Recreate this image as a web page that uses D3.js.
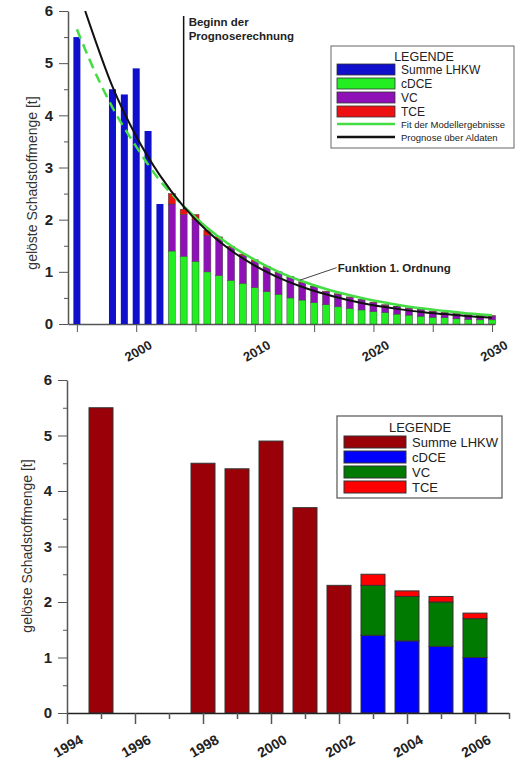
<!DOCTYPE html>
<html>
<head>
<meta charset="utf-8">
<script src="https://cdn.jsdelivr.net/npm/d3@7"></script>
<style>
  body { margin: 0; background: #fff; }
  svg { display: block; font-family: 'Liberation Sans', Arial, sans-serif; }
</style>
</head>
<body>
<div id="chart"></div>
<script>
// Data
const measYears = [1995, 1998, 1999, 2000, 2001, 2002]
const lhkw = [5.5, 4.5, 4.4, 4.9, 3.7, 2.3]

const stackYears = [2003, 2004, 2005, 2006]
const cdce = [1.4, 1.3, 1.2, 1.0]
const vc = [0.9, 0.8, 0.8, 0.7]
const tce = [0.2, 0.1, 0.1, 0.1]

// forecast bars of the upper chart (2003 - 2030)
const progYears = d3.range(2003, 2031)
const progCdce = [1.4, 1.3, 1.2, 1.0, 0.93, 0.84, 0.78, 0.70, 0.62, 0.57, 0.50, 0.46, 0.41, 0.37,
  0.33, 0.30, 0.27, 0.24, 0.22, 0.19, 0.17, 0.15, 0.13, 0.12, 0.10, 0.09, 0.08, 0.08]
const progVc = [0.9, 0.8, 0.8, 0.7, 0.70, 0.62, 0.53, 0.50, 0.46, 0.41, 0.39, 0.33, 0.30, 0.25,
  0.24, 0.21, 0.19, 0.17, 0.14, 0.14, 0.13, 0.12, 0.11, 0.09, 0.09, 0.08, 0.08, 0.07]
const progTce = [0.2, 0.1, 0.1, 0.1, 0.04, 0.03, 0.03, 0.03, 0.02, 0.02, 0.02, 0.02, 0.01, 0.01,
  0.01, 0.01, 0.01, 0.01, 0.01, 0.01, 0.01, 0.01, 0.01, 0.01, 0.01, 0.01, 0.01, 0.01]

// curves
const fitYears = [1995, 1996, 1998, 2000, 2002, 2004, 2006, 2008, 2010, 2012, 2014, 2016, 2018, 2020, 2022, 2024, 2026, 2028, 2030]
const fitValues = [5.65, 5.1, 4.15, 3.4, 2.75, 2.26, 1.84, 1.5, 1.23, 1.0, 0.82, 0.67, 0.55, 0.45, 0.37, 0.30, 0.25, 0.20, 0.17]
const progLineYears = [1995.7, 1996, 1998, 2000, 2002, 2004, 2006, 2008, 2010, 2012, 2014, 2016, 2018, 2020, 2022, 2024, 2026, 2028, 2030]
const progLineValues = [6.0, 5.8, 4.55, 3.6, 2.85, 2.25, 1.78, 1.41, 1.12, 0.89, 0.71, 0.57, 0.45, 0.36, 0.29, 0.23, 0.19, 0.15, 0.12]

const yTicks = [0, 1, 2, 3, 4, 5, 6]
const yMinor = [0.5, 1.5, 2.5, 3.5, 4.5, 5.5]
const topXTicks = [1995, 2000, 2005, 2010, 2015, 2020, 2025, 2030]
const topXLabels = [2000, 2010, 2020, 2030]
const botXTicks = d3.range(1994, 2008)
const botXLabels = [1994, 1996, 1998, 2000, 2002, 2004, 2006]

const yTitle = 'gelöste Schadstoffmenge [t]'

const svg = d3.select('#chart')
  .append('svg')
  .attr('width', 516)
  .attr('height', 761)

function drawYAxis(g, yScale, x0) {
  g.append('g')
    .attr('transform', `translate(${x0},0)`)
    .call(d3.axisLeft(yScale).tickValues(yMinor).tickSize(4).tickFormat(''))
    .call(a => a.select('.domain').remove())
    .selectAll('line').attr('stroke', '#555')
  const ax = g.append('g')
    .attr('transform', `translate(${x0},0)`)
    .call(d3.axisLeft(yScale).tickValues(yTicks).tickSize(9).tickSizeOuter(0).tickPadding(6).tickFormat(d3.format('d')))
  ax.select('.domain').attr('stroke', '#555').attr('stroke-width', 1.5)
  ax.selectAll('.tick line').attr('stroke', '#555')
  ax.selectAll('.tick text')
    .attr('font-size', 15).attr('font-weight', 'bold').attr('fill', '#222')
    .attr('font-family', 'Liberation Sans, Arial, sans-serif')
}

// ---------------- upper chart ----------------
const topG = svg.append('g')
const topY = d3.scaleLinear().domain([0, 6]).range([324, 11])
const topX = d3.scaleLinear().domain([1994.25, 2030.25]).range([68, 495])

// x axis
const topXAxis = topG.append('g')
  .attr('transform', `translate(0,${topY(0)})`)
  .call(d3.axisBottom(topX).tickValues(topXTicks).tickSize(8).tickSizeOuter(0).tickFormat(''))
topXAxis.select('.domain').attr('stroke', '#555').attr('stroke-width', 1.5)
topXAxis.selectAll('.tick line').attr('stroke', '#555')
topG.selectAll('.top-xlabel')
  .data(topXLabels)
  .join('text')
  .attr('transform', d => `translate(${topX(d) + 2},${topY(0) + 27}) rotate(-30)`)
  .attr('text-anchor', 'middle')
  .attr('dominant-baseline', 'central')
  .attr('font-size', 13)
  .attr('font-weight', 'bold')
  .attr('fill', '#222')
  .text(d => d)

drawYAxis(topG, topY, 68)

// measured bars
topG.selectAll('.lhkw-bar')
  .data(measYears.map((y, i) => ({ year: y, value: lhkw[i] })))
  .join('rect')
  .attr('x', d => topX(d.year) - 3.5)
  .attr('width', 7)
  .attr('y', d => topY(d.value))
  .attr('height', d => topY(0) - topY(d.value))
  .attr('fill', '#1010cc')

// forecast stacks
const progTable = progYears.map((y, i) => ({ year: y, cdce: progCdce[i], vc: progVc[i], tce: progTce[i] }))
const topColors = { cdce: '#22ee22', vc: '#9010b8', tce: '#ee1111' }
const topStack = d3.stack().keys(['cdce', 'vc', 'tce'])(progTable)
topG.selectAll('.prog-layer')
  .data(topStack)
  .join('g')
  .attr('fill', d => topColors[d.key])
  .selectAll('rect')
  .data(d => d)
  .join('rect')
  .attr('x', d => topX(d.data.year) - 3.5)
  .attr('width', 7)
  .attr('y', d => topY(d[1]))
  .attr('height', d => topY(d[0]) - topY(d[1]))
  .attr('stroke', '#444')
  .attr('stroke-width', 0.5)

// curves
const fitPts = fitYears.map((y, i) => [y, fitValues[i]])
const line = d3.line()
  .x(d => topX(d[0]))
  .y(d => topY(d[1]))
  .curve(d3.curveMonotoneX)
topG.append('path')
  .datum(fitPts.filter(d => d[0] <= 2004))
  .attr('d', line)
  .attr('fill', 'none')
  .attr('stroke', '#44dd44')
  .attr('stroke-width', 2.5)
  .attr('stroke-dasharray', '10,6')
topG.append('path')
  .datum(fitPts.filter(d => d[0] >= 2004))
  .attr('d', line)
  .attr('fill', 'none')
  .attr('stroke', '#44dd44')
  .attr('stroke-width', 2.5)
topG.append('path')
  .datum(progLineYears.map((y, i) => [y, progLineValues[i]]))
  .attr('d', line)
  .attr('fill', 'none')
  .attr('stroke', '#111')
  .attr('stroke-width', 2)

// start of forecast
topG.append('line')
  .attr('x1', topX(2004)).attr('x2', topX(2004))
  .attr('y1', 16).attr('y2', topY(2.2))
  .attr('stroke', '#111')
  .attr('stroke-width', 1.5)
topG.append('text')
  .attr('x', topX(2004) + 5)
  .attr('y', 26)
  .attr('font-size', 11.5)
  .attr('font-weight', 'bold')
  .attr('fill', '#222')
  .html(`<tspan x="${topX(2004) + 5}">Beginn der</tspan><tspan x="${topX(2004) + 5}" dy="1.25em">Prognoserechnung</tspan>`)

// annotation
topG.append('line')
  .attr('x1', topX(2013.8)).attr('y1', topY(0.84))
  .attr('x2', topX(2016.9)).attr('y2', topY(1.08))
  .attr('stroke', '#444')
  .attr('stroke-width', 1)
topG.append('text')
  .attr('x', topX(2017))
  .attr('y', topY(1.0))
  .attr('font-size', 11.5)
  .attr('font-weight', 'bold')
  .attr('fill', '#222')
  .text('Funktion 1. Ordnung')

topG.append('text')
  .attr('transform', 'translate(37,183) rotate(-90)')
  .attr('text-anchor', 'middle')
  .attr('font-size', 14)
  .attr('fill', '#333')
  .text(yTitle)

// legend (upper)
const legTop = topG.append('g').attr('transform', 'translate(331,46)')
legTop.append('rect')
  .attr('width', 183).attr('height', 102)
  .attr('fill', '#fff').attr('stroke', '#666').attr('stroke-width', 1)
legTop.append('text')
  .attr('x', 93).attr('y', 15)
  .attr('text-anchor', 'middle')
  .attr('font-size', 12.5)
  .attr('fill', '#222')
  .text('LEGENDE')
const legTopNames = ['Summe LHKW', 'cDCE', 'VC', 'TCE']
const legTopColors = ['#1010cc', '#22ee22', '#9010b8', '#ee1111']
legTop.selectAll('.sw')
  .data(legTopNames)
  .join('rect')
  .attr('x', 6).attr('y', (d, i) => 18 + i * 14)
  .attr('width', 58).attr('height', 11)
  .attr('fill', (d, i) => legTopColors[i])
  .attr('stroke', '#333').attr('stroke-width', 0.8)
legTop.selectAll('.lbl')
  .data(legTopNames)
  .join('text')
  .attr('x', 70).attr('y', (d, i) => 28 + i * 14)
  .attr('font-size', 12)
  .attr('fill', '#222')
  .text(d => d)
const legTopLines = ['Fit der Modellergebnisse', 'Prognose über Aldaten']
const legTopLineColors = ['#44dd44', '#111']
legTop.selectAll('.ln')
  .data(legTopLines)
  .join('line')
  .attr('x1', 6).attr('x2', 64)
  .attr('y1', (d, i) => 78 + i * 13).attr('y2', (d, i) => 78 + i * 13)
  .attr('stroke', (d, i) => legTopLineColors[i])
  .attr('stroke-width', 2.5)
legTop.selectAll('.lnl')
  .data(legTopLines)
  .join('text')
  .attr('x', 70).attr('y', (d, i) => 81.5 + i * 13)
  .attr('font-size', 9.5)
  .attr('fill', '#222')
  .text(d => d)

// ---------------- lower chart ----------------
const botG = svg.append('g')
const botY = d3.scaleLinear().domain([0, 6]).range([713, 380])
const botX = d3.scaleLinear().domain([1994, 2007]).range([67, 509])

// bars
botG.selectAll('.lhkw-bar')
  .data(measYears.map((y, i) => ({ year: y, value: lhkw[i] })))
  .join('rect')
  .attr('x', d => botX(d.year) - 12)
  .attr('width', 24)
  .attr('y', d => botY(d.value))
  .attr('height', d => botY(0) - botY(d.value))
  .attr('fill', '#990008')
  .attr('stroke', '#333')
  .attr('stroke-width', 1)

const botTable = stackYears.map((y, i) => ({ year: y, cdce: cdce[i], vc: vc[i], tce: tce[i] }))
const botColors = { cdce: '#0000ff', vc: '#007a00', tce: '#ff0000' }
botG.selectAll('.stack-layer')
  .data(d3.stack().keys(['cdce', 'vc', 'tce'])(botTable))
  .join('g')
  .attr('fill', d => botColors[d.key])
  .selectAll('rect')
  .data(d => d)
  .join('rect')
  .attr('x', d => botX(d.data.year) - 12)
  .attr('width', 24)
  .attr('y', d => botY(d[1]))
  .attr('height', d => botY(d[0]) - botY(d[1]))
  .attr('stroke', '#333')
  .attr('stroke-width', 1)

// x axis
const botXAxis = botG.append('g')
  .attr('transform', `translate(0,${botY(0)})`)
  .call(d3.axisBottom(botX).tickValues(botXTicks).tickSize(6).tickSizeOuter(0).tickFormat(''))
botXAxis.select('.domain').attr('stroke', '#222').attr('stroke-width', 1.5)
botXAxis.selectAll('.tick line')
  .attr('stroke', '#555')
  .attr('stroke-width', 1.5)
  .attr('y2', d => botXLabels.includes(d) ? 11 : 6)
botG.selectAll('.bot-xlabel')
  .data(botXLabels)
  .join('text')
  .attr('transform', d => `translate(${botX(d) + 1},${botY(0) + 33}) rotate(-30)`)
  .attr('text-anchor', 'middle')
  .attr('dominant-baseline', 'central')
  .attr('font-size', 14)
  .attr('font-weight', 'bold')
  .attr('fill', '#222')
  .text(d => d)

drawYAxis(botG, botY, 67)

botG.append('text')
  .attr('transform', 'translate(32,546) rotate(-90)')
  .attr('text-anchor', 'middle')
  .attr('font-size', 14)
  .attr('fill', '#333')
  .text(yTitle)

// legend (lower)
const legBot = botG.append('g').attr('transform', 'translate(337,416)')
legBot.append('rect')
  .attr('width', 165).attr('height', 82)
  .attr('fill', '#fff').attr('stroke', '#555').attr('stroke-width', 1.2)
legBot.append('text')
  .attr('x', 83).attr('y', 16)
  .attr('text-anchor', 'middle')
  .attr('font-size', 13)
  .attr('fill', '#222')
  .text('LEGENDE')
const legBotColors = ['#990008', '#0000ff', '#007a00', '#ff0000']
legBot.selectAll('.sw')
  .data(legTopNames)
  .join('rect')
  .attr('x', 7).attr('y', (d, i) => 20 + i * 15)
  .attr('width', 62).attr('height', 12)
  .attr('fill', (d, i) => legBotColors[i])
  .attr('stroke', '#333').attr('stroke-width', 1)
legBot.selectAll('.lbl')
  .data(legTopNames)
  .join('text')
  .attr('x', 75).attr('y', (d, i) => 31 + i * 15)
  .attr('font-size', 13)
  .attr('fill', '#222')
  .text(d => d)
</script>
</body>
</html>
